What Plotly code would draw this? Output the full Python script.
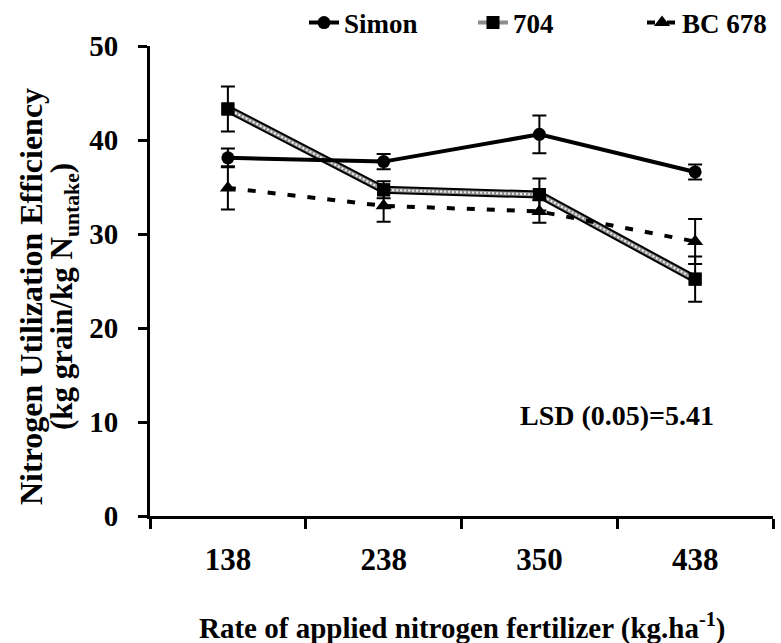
import plotly.graph_objects as go

rates = ["138", "238", "350", "438"]
simon = [38.1, 37.7, 40.6, 36.6]
simon_err = [1.0, 0.8, 2.0, 0.8]
v704 = [43.3, 34.7, 34.2, 25.2]
v704_err = [2.4, 0.9, 1.7, 2.4]
bc678 = [34.9, 33.0, 32.4, 29.2]
bc678_err = [2.3, 1.7, 1.2, 2.4]

FONT = "Liberation Serif"

fig = go.Figure()

err = dict(type="data", visible=True, color="black", thickness=2, width=7)

# 704: textured thick line (dark edge, grey body, light dots)
fig.add_trace(go.Scatter(x=rates, y=v704, mode="lines", showlegend=False,
                         line=dict(color="black", width=8), hoverinfo="skip"))
fig.add_trace(go.Scatter(x=rates, y=v704, mode="lines+markers", name="704", legendrank=2,
                         line=dict(color="#8c8c8c", width=4),
                         marker=dict(symbol="square", size=13, color="black"),
                         error_y=dict(array=v704_err, **err)))
fig.add_trace(go.Scatter(x=rates, y=v704, mode="lines", showlegend=False,
                         line=dict(color="#f0f0f0", width=2, dash="2px,2px"), hoverinfo="skip"))
fig.add_trace(go.Scatter(x=rates, y=v704, mode="markers", showlegend=False,
                         marker=dict(symbol="square", size=13, color="black"), hoverinfo="skip"))

fig.add_trace(go.Scatter(x=rates, y=simon, mode="lines+markers", name="Simon", legendrank=1,
                         line=dict(color="black", width=4),
                         marker=dict(symbol="circle", size=13, color="black"),
                         error_y=dict(array=simon_err, **err)))
fig.add_trace(go.Scatter(x=rates, y=bc678, mode="lines+markers", name="BC 678", legendrank=3,
                         line=dict(color="black", width=4, dash="8px,12px"),
                         marker=dict(symbol="triangle-up", size=14, color="black"),
                         error_y=dict(array=bc678_err, **err)))

fig.update_layout(
    width=781, height=643,
    margin=dict(l=150, r=8, t=46, b=127, autoexpand=False),
    plot_bgcolor="white", paper_bgcolor="white",
    font=dict(family=FONT, color="black", size=26),
    showlegend=True,
    legend=dict(orientation="h", xref="paper", yref="paper",
                x=(304 - 150) / 623, y=(516 - 23) / 470, xanchor="left", yanchor="middle",
                font=dict(family=FONT, size=27, weight="bold"),
                entrywidth=124, entrywidthmode="pixels",
                bgcolor="rgba(0,0,0,0)"),
    xaxis=dict(type="category", categoryorder="array", categoryarray=rates,
               showline=True, linecolor="black", linewidth=3,
               ticks="outside", ticklen=10, tickwidth=3, tickcolor="black",
               tickson="boundaries", showgrid=False, zeroline=False,
               tickfont=dict(family=FONT, size=31, weight="bold"),
               ticklabelstandoff=14, range=[-0.5, 3.5]),
    yaxis=dict(range=[0, 50], dtick=10, showline=True, linecolor="black", linewidth=3,
               ticks="outside", ticklen=9, tickwidth=3, tickcolor="black",
               showgrid=False, zeroline=False, ticklabelstandoff=14,
               tickfont=dict(family=FONT, size=29, weight="bold")),
)

fig.add_annotation(xref="paper", yref="paper", x=(31 - 150) / 623, y=(516 - 297) / 470,
                   text="<b>Nitrogen Utilization Efficiency</b>", textangle=-90,
                   showarrow=False, xanchor="center", yanchor="middle",
                   font=dict(family=FONT, size=32))
fig.add_annotation(xref="paper", yref="paper", x=(64 - 150) / 623, y=(516 - 297) / 470,
                   text="<b>(kg grain/kg N<sub>untake</sub>)</b>", textangle=-90,
                   showarrow=False, xanchor="center", yanchor="middle",
                   font=dict(family=FONT, size=31))
fig.add_annotation(xref="paper", yref="paper", x=(462 - 150) / 623, y=(516 - 626) / 470,
                   text="<b>Rate of applied nitrogen fertilizer (kg.ha<sup>-1</sup>)</b>",
                   showarrow=False, xanchor="center", yanchor="middle",
                   font=dict(family=FONT, size=29))
fig.add_annotation(xref="paper", yref="paper", x=(617 - 150) / 623, y=(516 - 415) / 470,
                   text="<b>LSD (0.05)=5.41</b>",
                   showarrow=False, xanchor="center", yanchor="middle",
                   font=dict(family=FONT, size=28))

fig.write_html("out.html", config={"displayModeBar": False},
               post_script="document.body.style.margin='0';document.body.style.padding='0';")
